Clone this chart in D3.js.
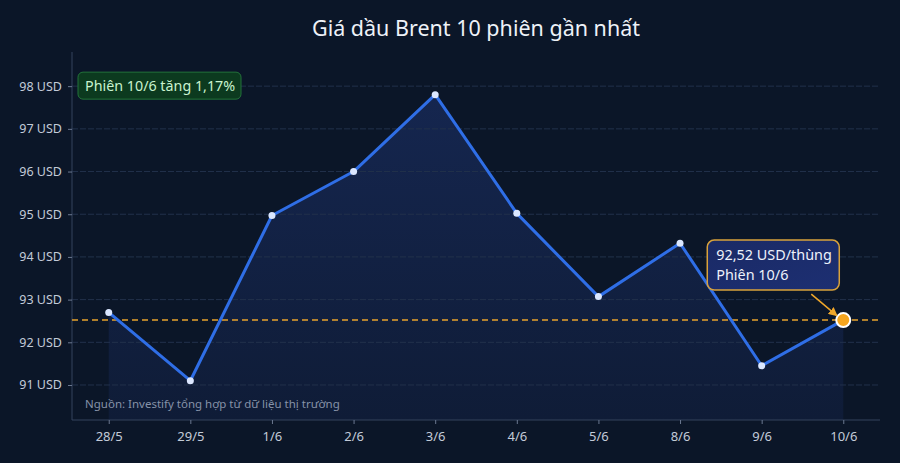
<!DOCTYPE html>
<html>
<head>
<meta charset="utf-8">
<script src="https://cdn.jsdelivr.net/npm/d3@7"></script>
<style>
	html, body { margin: 0; padding: 0; background: #0b1628; }
	svg { display: block; font-family: "Noto Sans", "DejaVu Sans", sans-serif; }
</style>
</head>
<body>
<div id="vis"></div>
<script>
const width = 900;
const height = 463;

const sessions = ["28/5", "29/5", "1/6", "2/6", "3/6", "4/6", "5/6", "8/6", "9/6", "10/6"];
const prices = [92.7, 91.1, 94.97, 96.0, 97.8, 95.02, 93.07, 94.32, 91.45, 92.52];
const yTicks = [91, 92, 93, 94, 95, 96, 97, 98];
const lastLabel = ["92,52 USD/thùng", "Phiên 10/6"];
const changeLabel = "Phiên 10/6 tăng 1,17%";
const sourceLabel = "Nguồn: Investify tổng hợp từ dữ liệu thị trường";

const margin = {top: 52, right: 20, bottom: 43, left: 72};

const svg = d3.select("#vis")
	.append("svg")
		.attr("width", width)
		.attr("height", height);

svg.append("rect")
	.attr("width", width)
	.attr("height", height)
	.attr("fill", "#0b1628");

const defs = svg.append("defs");
const areaGrad = defs.append("linearGradient")
	.attr("id", "areaGrad")
	.attr("x1", 0).attr("y1", 0).attr("x2", 0).attr("y2", 1);
areaGrad.append("stop").attr("offset", "0%").attr("stop-color", "#15264f");
areaGrad.append("stop").attr("offset", "100%").attr("stop-color", "#0f1c37");

const boxGrad = defs.append("linearGradient")
	.attr("id", "boxGrad")
	.attr("x1", 0).attr("y1", 0).attr("x2", 1).attr("y2", 1);
boxGrad.append("stop").attr("offset", "0%").attr("stop-color", "#1a2a66");
boxGrad.append("stop").attr("offset", "100%").attr("stop-color", "#1d2f72");

defs.append("marker")
	.attr("id", "arrow")
	.attr("viewBox", "0 0 10 10")
	.attr("refX", 8).attr("refY", 5)
	.attr("markerWidth", 6).attr("markerHeight", 6)
	.attr("orient", "auto")
	.append("path")
		.attr("d", "M0,0L10,5L0,10Z")
		.attr("fill", "#f0a72a");

const x = d3.scalePoint()
	.domain(sessions)
	.range([margin.left, width - margin.right])
	.padding(0.45);

const y = d3.scaleLinear()
	.domain([90.18, 98.8])
	.range([height - margin.bottom, margin.top]);

const plotBottom = height - margin.bottom;

// title
svg.append("text")
	.attr("x", (margin.left + width - margin.right) / 2)
	.attr("y", 36)
	.attr("text-anchor", "middle")
	.attr("fill", "#eef2f8")
	.style("font-size", "21.5px")
	.text("Giá dầu Brent 10 phiên gần nhất");

// area
const data = sessions.map((s, i) => ({s: s, v: prices[i]}));

svg.append("path")
	.datum(data)
	.attr("fill", "url(#areaGrad)")
	.attr("d", d3.area()
		.x(d => x(d.s))
		.y0(plotBottom)
		.y1(d => y(d.v)));

// grid
svg.append("g")
	.selectAll("line")
	.data(yTicks)
	.enter()
	.append("line")
		.attr("x1", margin.left)
		.attr("x2", width - margin.right)
		.attr("y1", d => y(d))
		.attr("y2", d => y(d))
		.attr("stroke", "#22314b")
		.attr("stroke-width", 1)
		.attr("stroke-dasharray", "6,2");

// axes
const yAxis = svg.append("g")
	.attr("transform", `translate(${margin.left},0)`)
	.call(d3.axisLeft(y).tickValues(yTicks).tickSize(4).tickPadding(6).tickFormat(d => d + " USD"));

const xAxis = svg.append("g")
	.attr("transform", `translate(0,${plotBottom})`)
	.call(d3.axisBottom(x).tickSize(4).tickPadding(8));

[xAxis, yAxis].forEach(ax => {
	ax.select(".domain").attr("stroke", "#34435c");
	ax.selectAll(".tick line").attr("stroke", "#6b7890");
	ax.selectAll("text")
		.attr("fill", "#c3cbd8")
		.style("font-size", "12.5px")
		.style("font-family", "'Noto Sans', sans-serif");
});
xAxis.selectAll("text").style("font-size", "13px");
xAxis.select(".domain").attr("d", `M${margin.left},0H${width - margin.right}`);
yAxis.select(".domain").attr("d", `M0,${margin.top}V${plotBottom}`);

// reference line at last value
const last = data[data.length - 1];
svg.append("line")
	.attr("x1", margin.left)
	.attr("x2", width - margin.right)
	.attr("y1", y(last.v))
	.attr("y2", y(last.v))
	.attr("stroke", "#e8a32c")
	.attr("stroke-width", 1.5)
	.attr("stroke-dasharray", "6,4");

// line
svg.append("path")
	.datum(data)
	.attr("fill", "none")
	.attr("stroke", "#2f6ee6")
	.attr("stroke-width", 3)
	.attr("stroke-linejoin", "round")
	.attr("d", d3.line()
		.x(d => x(d.s))
		.y(d => y(d.v)));

svg.append("g")
	.selectAll("circle")
	.data(data.slice(0, -1))
	.enter()
	.append("circle")
		.attr("cx", d => x(d.s))
		.attr("cy", d => y(d.v))
		.attr("r", 3.5)
		.attr("fill", "#dbe7ff");

svg.append("circle")
	.attr("cx", x(last.s))
	.attr("cy", y(last.v))
	.attr("r", 7)
	.attr("fill", "#f5a51f")
	.attr("stroke", "#ffffff")
	.attr("stroke-width", 2);

// source
svg.append("text")
	.attr("x", margin.left + 13)
	.attr("y", plotBottom - 12)
	.attr("fill", "#8692a8")
	.style("font-size", "11.5px")
	.text(sourceLabel);

// change badge
const badge = svg.append("g").attr("transform", `translate(${margin.left + 6},${y(98) - 14})`);
badge.append("rect")
	.attr("width", 163)
	.attr("height", 27)
	.attr("rx", 5)
	.attr("fill", "#0c3a1f")
	.attr("stroke", "#23733a")
	.attr("stroke-width", 1);
badge.append("text")
	.attr("x", 7)
	.attr("y", 18.5)
	.attr("fill", "#c9f3cf")
	.style("font-size", "14.3px")
	.text(changeLabel);

// last value callout
const bx = x(last.s) - 136;
const by = y(last.v) - 80;
const callout = svg.append("g").attr("transform", `translate(${bx},${by})`);
callout.append("rect")
	.attr("width", 132)
	.attr("height", 50)
	.attr("rx", 7)
	.attr("fill", "url(#boxGrad)")
	.attr("stroke", "#d9a23b")
	.attr("stroke-width", 1.5);
callout.selectAll("text")
	.data(lastLabel)
	.enter()
	.append("text")
		.attr("x", 9)
		.attr("y", (d, i) => 20 + i * 20)
		.attr("fill", "#eef2fb")
		.style("font-size", "14.4px")
		.text(d => d);

svg.append("line")
	.attr("x1", bx + 104)
	.attr("y1", by + 54)
	.attr("x2", x(last.s) - 7)
	.attr("y2", y(last.v) - 5)
	.attr("stroke", "#f0a72a")
	.attr("stroke-width", 1.5)
	.attr("marker-end", "url(#arrow)");
</script>
</body>
</html>
